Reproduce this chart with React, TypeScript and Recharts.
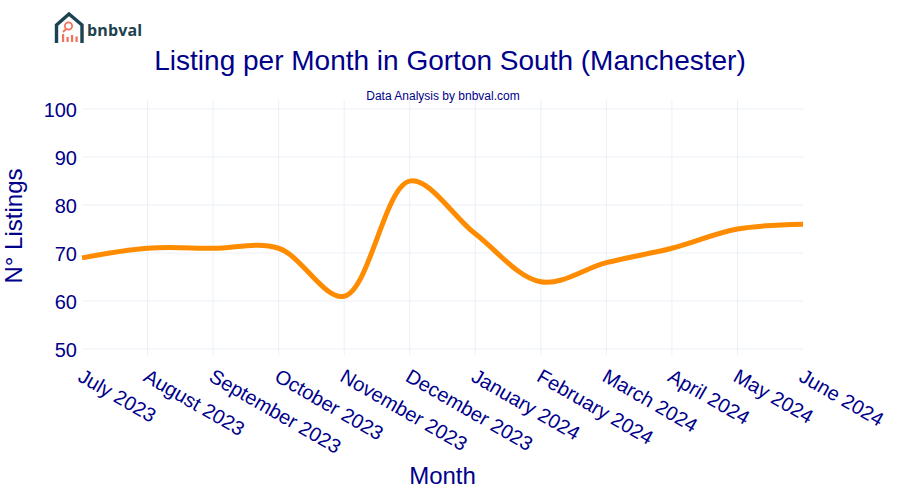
import React from "react";
import { LineChart, Line, XAxis, YAxis, CartesianGrid } from "recharts";

const months = ["July 2023","August 2023","September 2023","October 2023","November 2023","December 2023","January 2024","February 2024","March 2024","April 2024","May 2024","June 2024"];
const listings = [69,71,71,71,61,85,74,64,68,71,75,76];
const yTicks = [50,60,70,80,90,100];
const rows = months.map((month, i) => ({ month, listings: listings[i] }));

const NAVY = "#00008b";
const FONT = '"Liberation Sans", Arial, sans-serif';
const SMOOTHING = 1;

type Pt = [number, number];
function controls(p0: Pt, p1: Pt, p2: Pt, s: number): [Pt, Pt] {
  const d1x = p0[0]-p1[0], d1y = p0[1]-p1[1], d2x = p2[0]-p1[0], d2y = p2[1]-p1[1];
  const d1a = Math.pow(d1x*d1x+d1y*d1y, 0.25), d2a = Math.pow(d2x*d2x+d2y*d2y, 0.25);
  const nx = (d2a*d2a*d1x - d1a*d1a*d2x)*s, ny = (d2a*d2a*d1y - d1a*d1a*d2y)*s;
  const a = 3*d2a*(d1a+d2a), b = 3*d1a*(d1a+d2a);
  return [[p1[0]+(a?nx/a:0), p1[1]+(a?ny/a:0)], [p1[0]-(b?nx/b:0), p1[1]-(b?ny/b:0)]];
}
function plotlySpline(ctx: any) {
  let pts: Pt[] = [];
  return {
    areaStart() {}, areaEnd() {},
    lineStart() { pts = []; },
    point(x: number, y: number) { pts.push([+x, +y]); },
    lineEnd() {
      const n = pts.length;
      if (!n) return;
      ctx.moveTo(pts[0][0], pts[0][1]);
      const t: [Pt, Pt][] = [];
      for (let i = 1; i < n-1; i++) t.push(controls(pts[i-1], pts[i], pts[i+1], SMOOTHING));
      ctx.quadraticCurveTo(t[0][0][0], t[0][0][1], pts[1][0], pts[1][1]);
      for (let i = 2; i < n-1; i++) {
        ctx.bezierCurveTo(t[i-2][1][0], t[i-2][1][1], t[i-1][0][0], t[i-1][0][1], pts[i][0], pts[i][1]);
      }
      ctx.quadraticCurveTo(t[n-3][1][0], t[n-3][1][1], pts[n-1][0], pts[n-1][1]);
    },
  };
}

const MonthTick = (p: any) => (
  <text x={p.x} y={p.y} dx={-1} dy={19} transform={`rotate(30 ${p.x} ${p.y + 10})`} fontFamily={FONT} fontSize={20} fill={NAVY} textAnchor="start">
    {p.payload.value}
  </text>
);

const Logo = () => (
  <svg width={100} height={48} style={{ position: "absolute", left: 52, top: 11 }}>
    <path d="M4.5 32 V14 L17 3 L30 14 V32" fill="none" stroke="#1d4250" strokeWidth={3.4} />
    <circle cx={16.5} cy={15} r={3.6} fill="none" stroke="#f4715a" strokeWidth={1.8} />
    <path d="M14 18 L11 21" stroke="#f4715a" strokeWidth={1.8} />
    <rect x={10} y={23} width={2.2} height={8} fill="#f4715a" />
    <rect x={14.5} y={26} width={2.2} height={5} fill="#f4715a" />
    <rect x={19} y={24} width={2.2} height={7} fill="#f4715a" />
    <rect x={23.5} y={25.5} width={2.2} height={5.5} fill="#f4715a" />
    <text x={35} y={25} fontFamily='"Open Sans", sans-serif' fontWeight={700} fontSize={16} letterSpacing={0.15} fill="#1d4250">bnbval</text>
  </svg>
);

export default function App() {
  return (
    <div style={{ position: "absolute", left: 0, top: 0, width: 900, height: 500, background: "#fff", overflow: "hidden" }}>
      <LineChart width={900} height={500} data={rows} margin={{ top: 100, right: 97, bottom: 0, left: 0 }}>
        <text x={450} y={70} textAnchor="middle" fontFamily={FONT} fontSize={28} fill={NAVY}>Listing per Month in Gorton South (Manchester)</text>
        <text x={443} y={100} textAnchor="middle" fontFamily={FONT} fontSize={12} fill={NAVY}>Data Analysis by bnbval.com</text>
        <text x={22} y={226} textAnchor="middle" transform="rotate(-90 22 226)" fontFamily={FONT} fontSize={24} fill={NAVY}>N° Listings</text>
        <CartesianGrid
          stroke="#ebf0f8" strokeWidth={1} syncWithTicks
          verticalCoordinatesGenerator={({ offset }: any) =>
            months.map((_, i) => offset.left + (i * offset.width) / (months.length - 1)).slice(1, -1)
          }
        />
        <XAxis
          dataKey="month" scale="point" padding={{ left: 0, right: 0 }} interval={0}
          height={145} axisLine={false} tickLine={false} tick={<MonthTick />}
          label={{ value: "Month", position: "insideBottom", offset: 16, fontFamily: FONT, fontSize: 24, fill: NAVY }}
        />
        <YAxis
          domain={[48.75, 101.9]} ticks={yTicks} allowDataOverflow width={82}
          axisLine={false} tickLine={false} tickMargin={-1}
          tick={{ fontFamily: FONT, fontSize: 20, fill: NAVY, dy: 1 }}
        />
        <Line dataKey="listings" type={plotlySpline as any} stroke="#ff8c00" strokeWidth={5} dot={false} activeDot={false} isAnimationActive={false} />
      </LineChart>
      <Logo />
    </div>
  );
}
